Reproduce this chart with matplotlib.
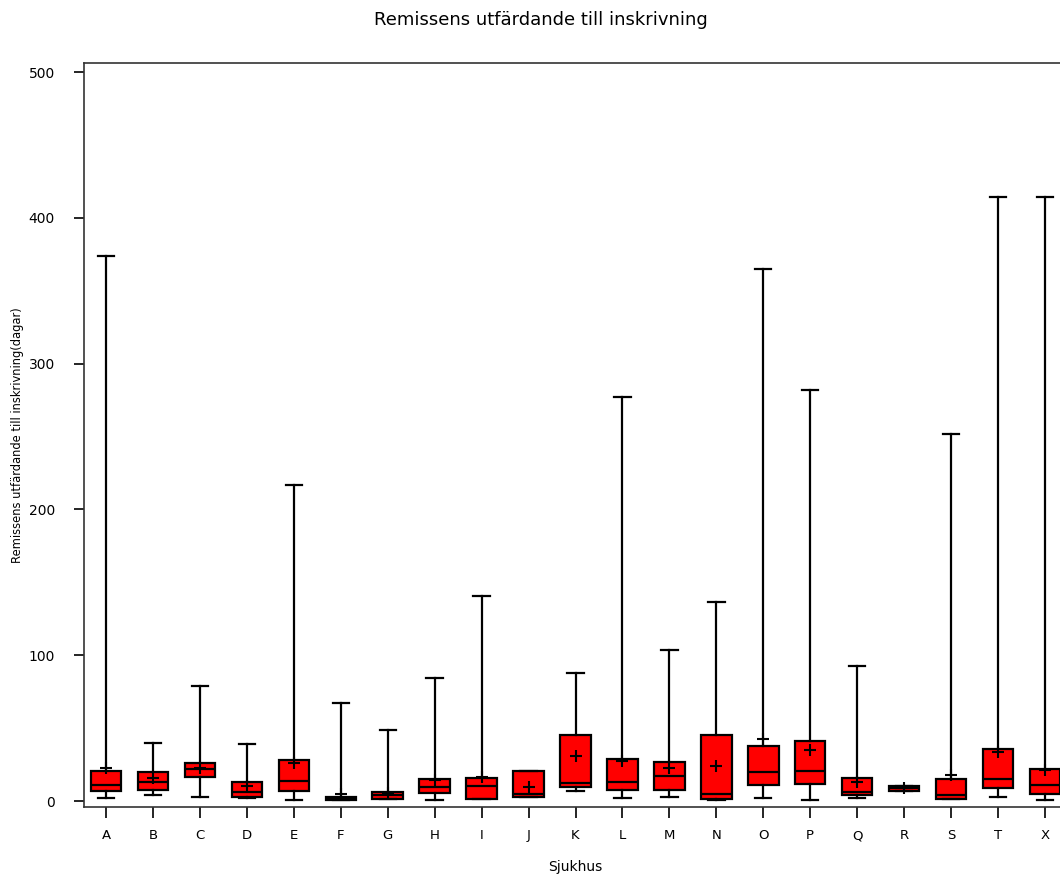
import matplotlib

matplotlib.use('Agg')
import matplotlib.pyplot as plt

# Per-hospital summary statistics (days from referral to admission)
hospitals = ['A', 'B', 'C', 'D', 'E', 'F', 'G', 'H', 'I', 'J', 'K',
             'L', 'M', 'N', 'O', 'P', 'Q', 'R', 'S', 'T', 'X']
whisker_low = [2, 4, 3, 2, 1, 0.5, 1.1, 1, 1.1, 2.7, 7,
               2, 3, 1, 2, 1, 2, 7, 1.1, 3, 1]
q1 = [7, 7.8, 16.7, 3, 7, 0.8, 1.6, 5.7, 1.6, 2.7, 9.8,
      7.8, 7.8, 1.6, 10.7, 11.9, 3.9, 7, 1.6, 8.8, 4.8]
median = [10.8, 12.8, 21.9, 6.2, 13.9, 1.8, 3.9, 9.4, 10, 4.8, 12.6,
          12.8, 16.9, 4.8, 19.6, 20.8, 6, 8.7, 3.9, 14.9, 10.8]
q3 = [20.7, 19.9, 26, 13, 27.9, 3, 6.2, 15.1, 16, 20.8, 45.5,
      29, 26.7, 45.5, 37.7, 40.9, 16, 10.5, 14.9, 35.8, 21.7]
whisker_high = [374, 40, 79, 39, 217, 67.5, 48.7, 84.5, 140.5, 20.8, 87.6,
                277, 103.6, 136.5, 365, 282, 92.8, 10.5, 252, 414, 414]
mean = [22.8, 16, 22.6, 10, 25.8, 4.7, 5.3, 14.2, 16.7, 9.8, 30.9,
        27.7, 22.9, 23.8, 42.7, 35, 12.8, 8.7, 17.8, 33.5, 21]

stats = []
for i, name in enumerate(hospitals):
    stats.append({'label': name, 'whislo': whisker_low[i], 'q1': q1[i],
                  'med': median[i], 'q3': q3[i], 'whishi': whisker_high[i],
                  'mean': mean[i], 'fliers': []})

W, H = 1060, 874
fig = plt.figure(figsize=(W / 100, H / 100), dpi=100)
# axes runs past the right edge of the figure
ax = fig.add_axes([84 / W, 1 - 807 / H, (1067 - 84) / W, (807 - 63) / H])

ax.bxp(stats, positions=range(len(hospitals)), widths=0.65, capwidths=0.35,
       showmeans=True, patch_artist=True, manage_ticks=False,
       boxprops=dict(facecolor='#ff0000', edgecolor='black', linewidth=1.6),
       medianprops=dict(color='black', linewidth=1.6),
       whiskerprops=dict(color='black', linewidth=1.6),
       capprops=dict(color='black', linewidth=1.6),
       meanprops=dict(marker='+', markersize=9, markeredgecolor='black',
                      markeredgewidth=1.5))

ax.set_xlim(-0.47, len(hospitals) - 0.53)
ax.set_ylim(-4.1, 506.2)
ax.set_xticks(range(len(hospitals)))
ax.set_xticklabels(hospitals, fontsize=9.5)
ax.set_yticks([0, 100, 200, 300, 400, 500])
ax.tick_params(axis='y', direction='out', length=7, width=1.2, labelsize=10, pad=14)
ax.tick_params(axis='x', direction='out', length=8, width=1.2, labelsize=9.5, pad=8)
for s in ax.spines.values():
    s.set_linewidth(1.2)
    s.set_color('#333333')

ax.set_xlabel('Sjukhus', fontsize=10, labelpad=13)
ax.set_ylabel('Remissens utfärdande till inskrivning(dagar)', fontsize=8.3, labelpad=3)
fig.text(541 / W, 1 - 20 / H, 'Remissens utfärdande till inskrivning',
         ha='center', va='center', fontsize=13)

fig.savefig('out.png', dpi=100)
